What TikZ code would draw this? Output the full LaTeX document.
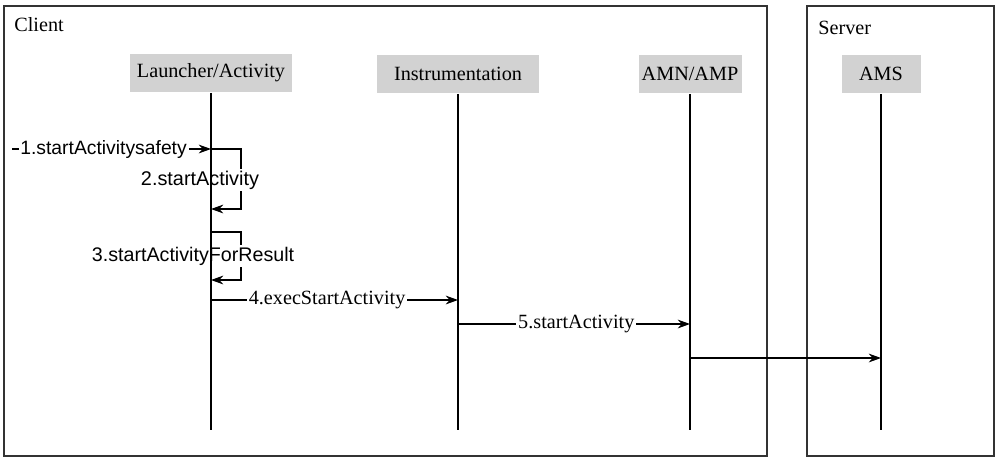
\documentclass[tikz,border=0pt]{standalone}
\usepackage{fontspec}
\setmainfont{Liberation Serif}
\newfontfamily\msgsans{Liberation Sans}
\usepackage{tikz}
\usetikzlibrary{arrows.meta, positioning, calc}

\tikzset{
  lane/.style={draw=black!80, line width=0.8pt, inner sep=0pt},
  head/.style={fill=gray!35, inner sep=0pt, minimum height=0.78cm, font=\fontsize{11.5}{13}\selectfont},
  life/.style={line width=0.65pt},
  msg/.style={-{Stealth[length=7pt,width=5pt]}, line width=0.65pt},
  lbl/.style={fill=white, inner sep=1pt, font=\fontsize{11.5}{13}\selectfont},
  sanslbl/.style={lbl, font=\msgsans\fontsize{11}{13}\selectfont}
}

\begin{document}
\begin{tikzpicture}[x=0.02cm, y=-0.02cm]
  \useasboundingbox (0,0) rectangle (1000,460);

  % swimlanes
  \node[lane, minimum width=15.26cm, minimum height=9cm] (client) at (385.5,231) {};
  \node[lane, minimum width=3.74cm, minimum height=9cm] (server) at (900.5,231) {};
  \node[anchor=west, inner sep=0pt, font=\fontsize{11.5}{13}\selectfont] (clientlbl) at (14,25) {Client};
  \node[anchor=west, inner sep=0pt, font=\fontsize{11.5}{13}\selectfont] (serverlbl) at (818,28) {Server};

  % participants
  \node[head, minimum width=3.26cm] (launcher) at (211,73) {Launcher/Activity};
  \node[head, minimum width=3.26cm] (instr) at (458,74) {Instrumentation};
  \node[head, minimum width=2.06cm] (amp) at (690,74) {AMN/AMP};
  \node[head, minimum width=1.58cm] (ams) at (881,74) {AMS};

  \coordinate (bottom) at (0,430);
  \coordinate (caller) at (12,149);

  % messages
  \draw[msg] (caller) -- node[sanslbl, pos=0.46] {1.startActivitysafety} (launcher |- caller);
  \draw[msg] (launcher |- 0,149) -- ++(30,0) |- (launcher |- 0,209);
  \draw[msg] (launcher |- 0,232) -- ++(30,0) |- (launcher |- 0,280);
  \node[sanslbl, font=\msgsans\fontsize{11.3}{13}\selectfont] (call2) at (200,180) {2.startActivity};
  \node[sanslbl, font=\msgsans\fontsize{11.2}{13}\selectfont] (call3) at (193,256) {3.startActivityForResult};
  \draw[msg] (launcher |- 0,300) -- node[lbl, pos=0.47] {4.execStartActivity} (instr |- 0,300);
  \draw[msg] (instr |- 0,324) -- node[lbl, pos=0.51] {5.startActivity} (amp |- 0,324);
  \draw[msg] (amp |- 0,358) -- (ams |- 0,358);

  % lifelines
  \foreach \p in {launcher, instr, amp, ams}
    \draw[life] (\p.south) -- (\p.south |- bottom);
\end{tikzpicture}
\end{document}
